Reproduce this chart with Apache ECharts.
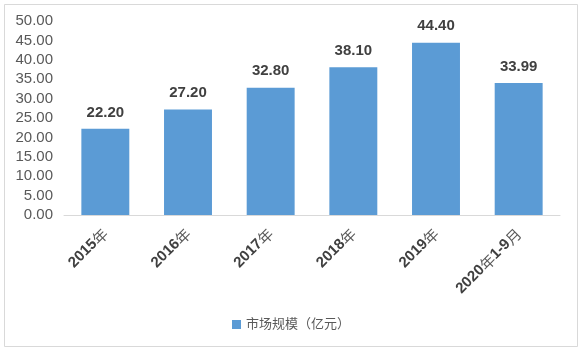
<!DOCTYPE html>
<html><head><meta charset="utf-8">
<script src="https://cdn.jsdelivr.net/npm/echarts@6/dist/echarts.min.js"></script>
<style>html,body{margin:0;padding:0;background:#fff}#c{width:582px;height:352px}</style>
</head><body><div id="c"></div>
<script>
const categories = ['2015年','2016年','2017年','2018年','2019年','2020年1-9月'];
const marketSize = [22.20, 27.20, 32.80, 38.10, 44.40, 33.99];
const seriesName = '市场规模（亿元）';
const yTicks = {min: 0, max: 50, interval: 5};

function richLabel(s) {
  return s.replace(/([^\u4e00-\u9fff]+)|([\u4e00-\u9fff]+)/g, (m, a, b) => a ? '{b|' + a + '}' : '{c|' + b + '}');
}

const chart = echarts.init(document.getElementById('c'), null, {renderer: 'canvas'});
chart.setOption({
  animation: false,
  backgroundColor: '#fff',
  textStyle: {fontFamily: 'Arial, "Liberation Sans", "Noto Sans CJK SC", sans-serif'},
  graphic: [{
    type: 'rect', shape: {x: 4.5, y: 4.5, width: 573, height: 342},
    style: {fill: 'none', stroke: '#d9d9d9', lineWidth: 1}, silent: true
  }],
  grid: {left: 64, right: 22, top: 21, bottom: 137},
  legend: {
    bottom: 16, left: 'center', itemWidth: 9, itemHeight: 9, itemGap: 6,
    icon: 'rect',
    textStyle: {fontSize: 13, color: '#595959'},
    data: [seriesName]
  },
  xAxis: {
    type: 'category', data: categories,
    axisLine: {lineStyle: {color: '#d9d9d9', width: 1}},
    axisTick: {show: false},
    axisLabel: {
      rotate: 45, interval: 0, margin: 16, fontSize: 15, color: '#404040',
      formatter: v => richLabel(v),
      rich: {
        b: {fontSize: 15, fontWeight: 'bold', color: '#404040', fontFamily: 'Arial, "Liberation Sans", sans-serif'},
        c: {fontSize: 15, fontWeight: 'normal', color: '#595959', fontFamily: '"Noto Sans CJK SC", sans-serif'}
      }
    }
  },
  yAxis: {
    type: 'value', min: yTicks.min, max: yTicks.max, interval: yTicks.interval,
    axisLine: {show: false}, axisTick: {show: false},
    splitLine: {show: false},
    axisLabel: {margin: 11, fontSize: 15, color: '#595959', formatter: v => v.toFixed(2)}
  },
  series: [{
    name: seriesName, type: 'bar', data: marketSize, barWidth: '58%',
    itemStyle: {color: '#5b9bd5'},
    label: {show: true, position: 'top', distance: 9, fontSize: 15, fontWeight: 'bold', color: '#404040',
      formatter: p => p.value.toFixed(2)}
  }]
});
</script></body></html>
